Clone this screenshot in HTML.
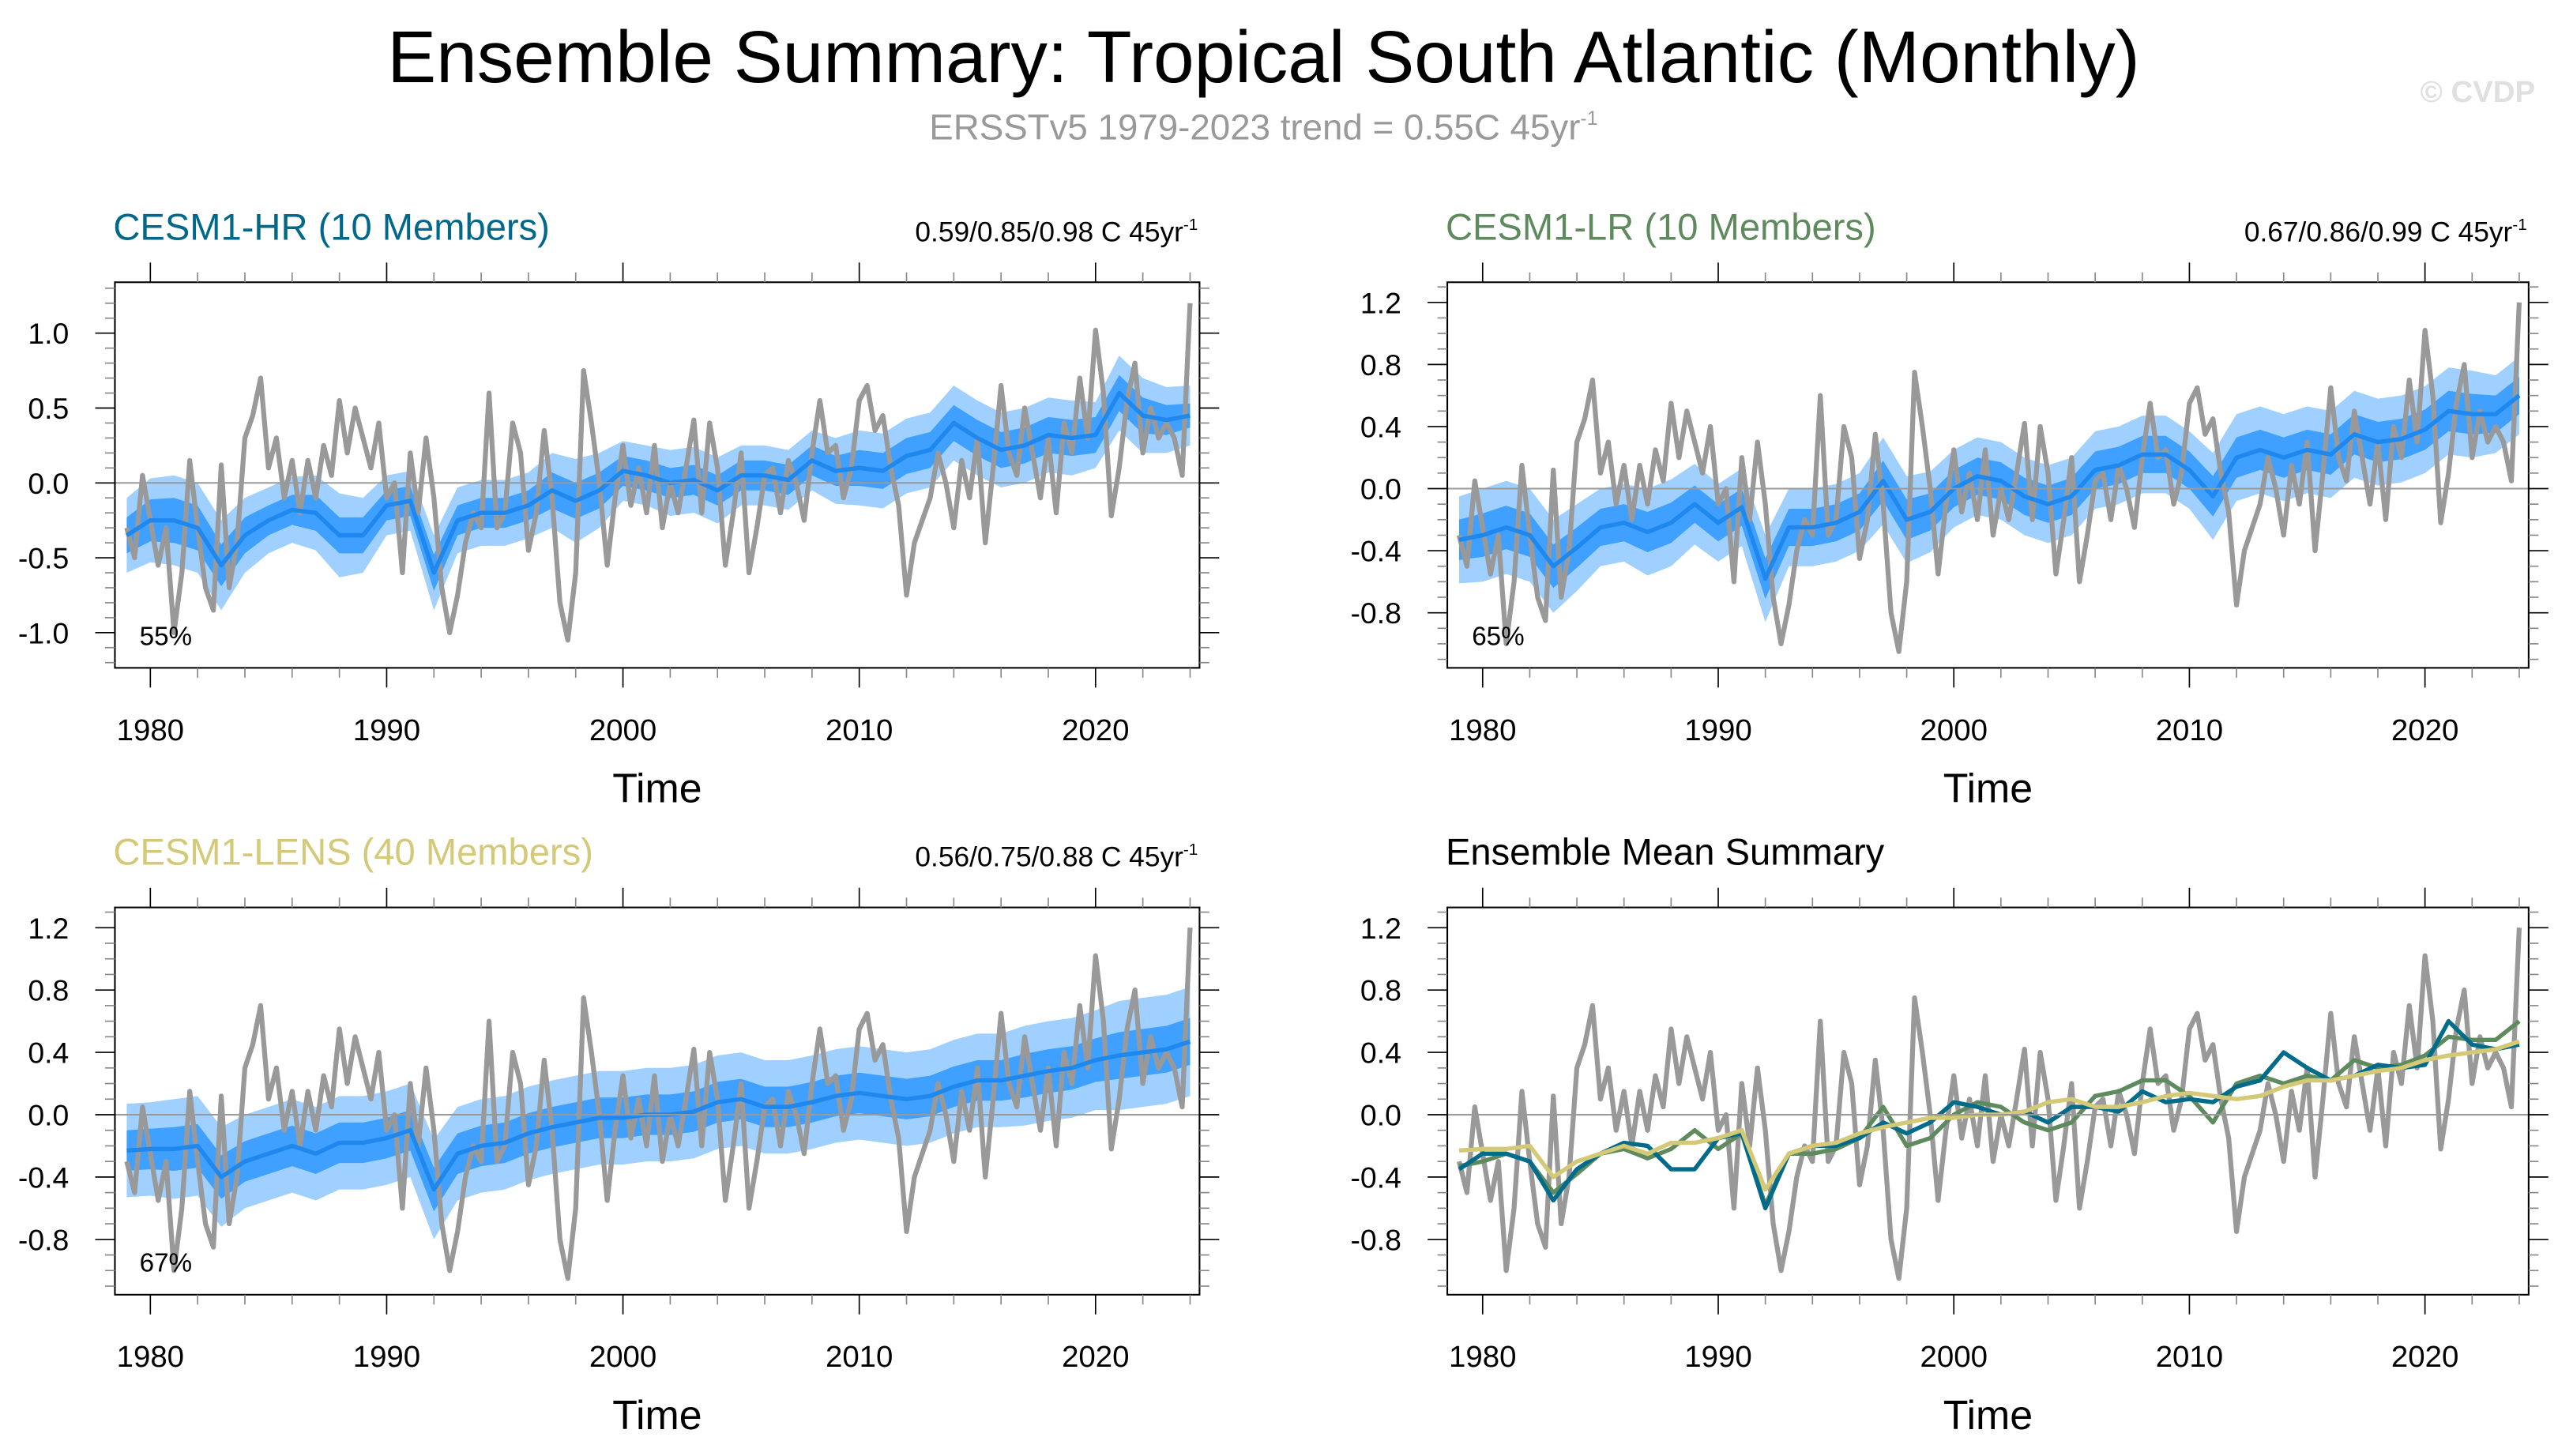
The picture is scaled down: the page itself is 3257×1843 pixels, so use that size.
<!DOCTYPE html>
<html><head><meta charset="utf-8"><style>
html,body{margin:0;padding:0;background:#fff;}
svg{display:block;font-family:"Liberation Sans",sans-serif;}
</style></head><body>
<svg id="chart" width="3257" height="1843" viewBox="0 0 1568 887.3" xmlns="http://www.w3.org/2000/svg">
<text x="770" y="50" font-size="44.7" text-anchor="middle" fill="#000">Ensemble Summary: Tropical South Atlantic (Monthly)</text>
<text x="770" y="85" font-size="22" text-anchor="middle" fill="#999">ERSSTv5 1979-2023 trend = 0.55C 45yr<tspan dy="-9" font-size="12">-1</tspan></text>
<text x="1545" y="62" font-size="18.5" font-weight="bold" text-anchor="end" fill="#e0e0e0">© CVDP</text>
</svg>
<script>
// Observed ERSSTv5 anomalies, 3 samples per year starting 1979.0
const obsValues = [
-0.30,-0.50,0.05, -0.25,-0.55,-0.30, -1.00,-0.60,0.15, -0.30,-0.70,-0.85,
0.12,-0.70,-0.40, 0.30,0.45,0.70, 0.10,0.30,-0.10, 0.15,-0.20,0.15,
-0.10,0.25,0.05, 0.55,0.20,0.50, 0.30,0.10,0.40, -0.10,0.00,-0.60,
0.20,-0.20,0.30, -0.10,-0.70,-1.00, -0.75,-0.40,-0.20, -0.30,0.60,-0.30,
-0.20,0.40,0.20, -0.45,-0.20,0.35, -0.10,-0.80,-1.05, -0.60,0.75,0.40,
0.00,-0.55,-0.10, 0.25,-0.15,0.10, -0.20,0.25,-0.30, 0.00,-0.20,0.10,
0.42,-0.20,0.40, 0.10,-0.55,-0.20, 0.20,-0.60,-0.30, 0.05,0.10,-0.20,
0.15,0.00,-0.25, 0.20,0.55,0.20, 0.25,-0.10,0.10, 0.55,0.65,0.35,
0.45,0.10,-0.15, -0.75,-0.40,-0.25, -0.10,0.20,0.00, -0.30,0.15,-0.10,
0.30,-0.40,0.10, 0.65,0.20,0.05, 0.50,0.20,-0.10, 0.30,-0.20,0.40,
0.20,0.70,0.30, 1.02,0.60,-0.22, 0.10,0.55,0.80, 0.20,0.50,0.30,
0.40,0.30,0.05, 1.20];
const years = [1979,1980,1981,1982,1983,1984,1985,1986,1987,1988,1989,1990,1991,1992,1993,1994,1995,1996,1997,1998,1999,2000,2001,2002,2003,2004,2005,2006,2007,2008,2009,2010,2011,2012,2013,2014,2015,2016,2017,2018,2019,2020,2021,2022,2023,2024];
const hrMean = [-0.35,-0.25,-0.25,-0.30,-0.55,-0.35,-0.25,-0.18,-0.20,-0.35,-0.35,-0.15,-0.12,-0.60,-0.25,-0.20,-0.20,-0.15,-0.05,-0.12,-0.05,0.08,0.05,0.00,0.02,-0.05,0.05,0.05,0.02,0.15,0.08,0.10,0.08,0.18,0.22,0.40,0.30,0.22,0.25,0.32,0.30,0.32,0.60,0.45,0.42,0.45];
const lrMean = [-0.33,-0.30,-0.25,-0.30,-0.50,-0.38,-0.25,-0.22,-0.28,-0.22,-0.10,-0.22,-0.12,-0.58,-0.25,-0.25,-0.22,-0.15,0.05,-0.20,-0.15,0.00,0.08,0.05,-0.05,-0.10,-0.05,0.12,0.15,0.22,0.22,0.12,-0.05,0.20,0.25,0.20,0.25,0.22,0.35,0.30,0.32,0.38,0.50,0.48,0.48,0.60];
const lensMean = [-0.23,-0.22,-0.22,-0.20,-0.40,-0.30,-0.25,-0.20,-0.25,-0.18,-0.18,-0.15,-0.10,-0.48,-0.25,-0.20,-0.18,-0.12,-0.08,-0.05,-0.02,-0.02,0.00,0.00,0.02,0.08,0.10,0.05,0.05,0.08,0.12,0.14,0.12,0.10,0.12,0.18,0.22,0.22,0.25,0.28,0.30,0.35,0.38,0.40,0.42,0.47];
const hrOuter = [0.25,0.28,0.30,0.30,0.30,0.25,0.22,0.22,0.25,0.28,0.25,0.20,0.20,0.25,0.22,0.22,0.22,0.22,0.25,0.28,0.25,0.20,0.20,0.22,0.22,0.22,0.20,0.20,0.20,0.20,0.22,0.25,0.25,0.25,0.25,0.25,0.25,0.25,0.25,0.25,0.25,0.22,0.25,0.25,0.22,0.20];
const hrInner = [0.12,0.14,0.15,0.15,0.14,0.12,0.10,0.10,0.12,0.12,0.12,0.10,0.10,0.12,0.10,0.10,0.10,0.10,0.12,0.12,0.12,0.10,0.10,0.10,0.10,0.10,0.10,0.10,0.10,0.10,0.10,0.12,0.12,0.12,0.12,0.12,0.12,0.12,0.12,0.12,0.12,0.12,0.12,0.12,0.10,0.08];
const lrOuter = [0.28,0.30,0.30,0.30,0.30,0.28,0.25,0.25,0.28,0.28,0.26,0.25,0.25,0.28,0.25,0.25,0.25,0.25,0.28,0.28,0.26,0.25,0.25,0.25,0.25,0.25,0.25,0.25,0.25,0.25,0.25,0.25,0.28,0.28,0.28,0.28,0.28,0.28,0.28,0.28,0.28,0.28,0.28,0.28,0.25,0.25];
const lrInner = [0.13,0.14,0.14,0.14,0.14,0.13,0.12,0.12,0.13,0.13,0.12,0.12,0.12,0.13,0.12,0.12,0.12,0.12,0.13,0.13,0.12,0.12,0.12,0.12,0.12,0.12,0.12,0.12,0.12,0.12,0.12,0.12,0.13,0.13,0.13,0.13,0.13,0.13,0.13,0.13,0.13,0.13,0.13,0.13,0.12,0.12];
const lensOuter = [0.30,0.30,0.32,0.32,0.32,0.30,0.30,0.30,0.30,0.30,0.30,0.30,0.30,0.32,0.30,0.30,0.30,0.30,0.30,0.30,0.30,0.30,0.30,0.30,0.30,0.30,0.30,0.30,0.30,0.30,0.30,0.30,0.30,0.30,0.30,0.30,0.30,0.30,0.32,0.32,0.32,0.32,0.35,0.35,0.35,0.35];
const lensInner = [0.13,0.13,0.14,0.14,0.14,0.13,0.13,0.13,0.13,0.13,0.13,0.13,0.13,0.14,0.13,0.13,0.13,0.13,0.13,0.13,0.13,0.13,0.13,0.13,0.13,0.13,0.13,0.13,0.13,0.13,0.13,0.13,0.13,0.13,0.13,0.13,0.13,0.13,0.14,0.14,0.14,0.14,0.15,0.15,0.15,0.15];
const xTickYears = [1980,1990,2000,2010,2020];

const NS='http://www.w3.org/2000/svg';
const svg=document.getElementById('chart');
function mk(tag,attrs,parent){const e=document.createElementNS(NS,tag);for(const k in attrs)e.setAttribute(k,attrs[k]);(parent||svg).appendChild(e);return e;}

const panels=[
 {key:'hr',x0:70,x1:731,y0:172,y1:407,ymin:-1.235,ymax:1.34,majors:[-1,-0.5,0,0.5,1],title:'CESM1-HR (10 Members)',tc:'#00688b',rt:'0.59/0.85/0.98 C 45yr',pct:'55%',mean:hrMean,outer:hrOuter,inner:hrInner},
 {key:'lr',x0:882,x1:1541,y0:172,y1:407,ymin:-1.155,ymax:1.33,majors:[-0.8,-0.4,0,0.4,0.8,1.2],title:'CESM1-LR (10 Members)',tc:'#5e8a5e',rt:'0.67/0.86/0.99 C 45yr',pct:'65%',mean:lrMean,outer:lrOuter,inner:lrInner},
 {key:'lens',x0:70,x1:731,y0:553,y1:789,ymin:-1.155,ymax:1.33,majors:[-0.8,-0.4,0,0.4,0.8,1.2],title:'CESM1-LENS (40 Members)',tc:'#d4c977',rt:'0.56/0.75/0.88 C 45yr',pct:'67%',mean:lensMean,outer:lensOuter,inner:lensInner},
 {key:'summary',x0:882,x1:1541,y0:553,y1:789,ymin:-1.155,ymax:1.33,majors:[-0.8,-0.4,0,0.4,0.8,1.2],title:'Ensemble Mean Summary',tc:'#000'}
];
const XMIN=1978.5,XMAX=2024.4;

panels.forEach(p=>{
 const g=mk('g',{});
 
 
 const sx=t=>p.x0+(t-XMIN)/(XMAX-XMIN)*(p.x1-p.x0);
 const sy=v=>p.y1-(v-p.ymin)/(p.ymax-p.ymin)*(p.y1-p.y0);
 const t1=mk('text',{x:p.x0-1,y:p.y0-26,'font-size':22.7,fill:p.tc},g);t1.textContent=p.title;
 
 
 if(p.rt){const t2=mk('text',{x:p.x1-1,y:p.y0-25,'font-size':17,'text-anchor':'end',fill:'#000'},g);t2.textContent=p.rt;
  const sup=mk('tspan',{dy:-7,'font-size':10},t2);sup.textContent='-1';
  
  }
 const cid='clip-'+p.key;const cp=mk('clipPath',{id:cid},g);mk('rect',{x:p.x0,y:p.y0,width:p.x1-p.x0,height:p.y1-p.y0},cp);
 const plot=mk('g',{'clip-path':'url(#'+cid+')'},g);
 const band=(arr,w)=>{let up=years.map((y,i)=>sx(y)+','+sy(arr[i]+w[i]));let lo=years.map((y,i)=>sx(y)+','+sy(arr[i]-w[i])).reverse();return up.concat(lo).join(' ');};
 if(p.mean){
  const b1=mk('polygon',{points:band(p.mean,p.outer),fill:'#9fd0ff'},plot);
  
  
  const b2=mk('polygon',{points:band(p.mean,p.inner),fill:'#3fa0ff'},plot);
  
  
 }
 const z=mk('line',{x1:p.x0,x2:p.x1,y1:sy(0),y2:sy(0),stroke:'#999','stroke-width':1},g);
 
 
 const obs=mk('polyline',{points:obsValues.map((v,i)=>sx(1979+i/3)+','+sy(v)).join(' '),fill:'none',stroke:'#999','stroke-width':3,'stroke-linejoin':'round'},plot);
 
 
 const line=(arr,col,name)=>{const l=mk('polyline',{points:years.map((y,i)=>sx(y)+','+sy(arr[i])).join(' '),fill:'none',stroke:col,'stroke-width':2.6,'stroke-linejoin':'round'},plot);
  
  };
 if(p.mean){line(p.mean,'#1e88ee','ensemble-mean-line');}
 else{line(lrMean,'#5e8a5e','lr-mean-line');line(hrMean,'#006b8a','hr-mean-line');line(lensMean,'#d4c977','lens-mean-line');}
 mk('rect',{x:p.x0,y:p.y0,width:p.x1-p.x0,height:p.y1-p.y0,fill:'none',stroke:'#000','stroke-width':1},g);
 for(let yr=1980;yr<=2024;yr+=2){const X=sx(yr);const maj=yr%10===0;const L=maj?12:6;const c=maj?'#000':'#888';
  mk('line',{x1:X,x2:X,y1:p.y0,y2:p.y0-L,stroke:c,'stroke-width':0.8},g);
  mk('line',{x1:X,x2:X,y1:p.y1,y2:p.y1+L,stroke:c,'stroke-width':0.8},g);}
 xTickYears.forEach(yr=>{const t=mk('text',{x:sx(yr),y:p.y1+44,'font-size':18.5,'text-anchor':'middle'},g);t.textContent=yr;
  
  });
 const xt=mk('text',{x:(p.x0+p.x1)/2,y:p.y1+82,'font-size':25,'text-anchor':'middle'},g);xt.textContent='Time';
 
 
 for(let k=Math.ceil(p.ymin*10);k<=Math.floor(p.ymax*10);k++){const Y=sy(k/10);
  const maj=p.majors.some(m=>Math.abs(m*10-k)<0.01);const L=maj?12:6;const c=maj?'#000':'#888';
  mk('line',{x1:p.x0,x2:p.x0-L,y1:Y,y2:Y,stroke:c,'stroke-width':0.8},g);
  mk('line',{x1:p.x1,x2:p.x1+L,y1:Y,y2:Y,stroke:c,'stroke-width':0.8},g);}
 p.majors.forEach(m=>{const t=mk('text',{x:p.x0-28,y:sy(m)+6.5,'font-size':18,'text-anchor':'end'},g);t.textContent=m.toFixed(1);
  
  });
 if(p.pct){const t=mk('text',{x:p.x0+15,y:p.y1-14,'font-size':16},g);t.textContent=p.pct;
  
  }
});
</script>
</body></html>
